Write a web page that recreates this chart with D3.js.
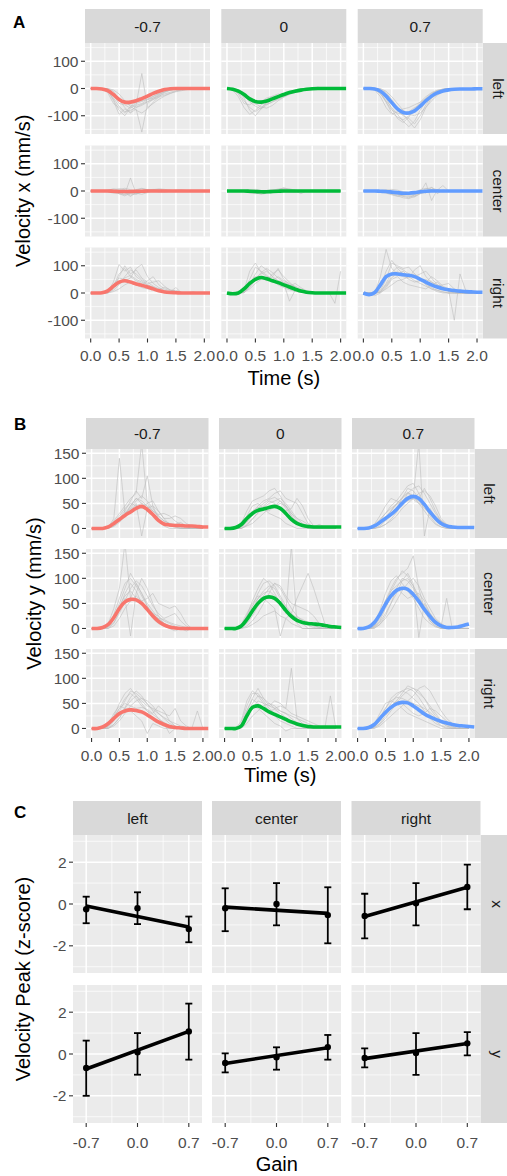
<!DOCTYPE html>
<html>
<head>
<meta charset="utf-8">
<script src="https://cdn.jsdelivr.net/npm/d3@7"></script>
<style>
  body { margin: 0; background: #fff; }
  svg { display: block; font-family: "Liberation Sans", Arial, Helvetica, sans-serif; }
</style>
</head>
<body>
<script>
const gains = ["-0.7", "0", "0.7"];
const sides = ["left", "center", "right"];
const axes = ["x", "y"];
const dt = 0.1; // samples every 0.1 s, starting at 0

// mean velocity traces, one per gain (-0.7, 0, 0.7)
const meanVxLeft = [
  [0,0,-2,-8,-22,-40,-50,-50,-45,-37,-28,-18,-10,-4,-1,0,0,0,0,0,0,0],
  [0,-3,-10,-22,-38,-48,-50,-46,-38,-30,-22,-15,-10,-6,-3,-1,0,0,0,0,0,0],
  [0,0,-2,-10,-28,-52,-75,-88,-90,-82,-65,-45,-28,-16,-9,-5,-3,-2,-2,-2,-1,-1]
];
const meanVxCenter = [
  [0,0,0,0,-1,-2,-2,-2,-1,-1,0,0,0,0,0,0,0,0,0,0,0,0],
  [0,0,0,0,-1,-2,-3,-3,-2,-1,0,0,0,0,0,0,0,0,0,0,0],
  [0,0,0,-1,-2,-4,-6,-8,-8,-6,-3,-1,0,0,0,0,0,0,0,0,0,0]
];
const meanVxRight = [
  [0,0,1,8,25,40,45,40,33,28,22,15,8,4,2,1,0,0,0,0,0,0],
  [0,-3,0,15,35,50,57,52,45,38,30,22,14,7,3,1,0,0,0,0,0,0],
  [0,-6,2,30,60,70,70,67,65,60,50,40,30,22,16,12,9,7,5,4,3,3]
];
const meanVyLeft = [
  [0,0,0,3,10,18,26,33,40,44,38,28,16,9,7,6,6,5,5,4,3,3],
  [0,0,2,8,20,30,36,39,42,44,40,30,18,10,6,4,3,3,3,3,3,3],
  [0,0,1,5,12,20,28,38,50,60,64,60,48,33,20,10,5,3,2,2,2,2]
];
const meanVyCenter = [
  [0,0,2,8,22,40,53,58,57,50,38,25,14,7,3,1,0,0,0,0,0,0],
  [0,0,0,5,18,35,50,60,63,60,50,36,24,16,12,10,9,8,6,4,3,2],
  [0,0,3,12,28,48,65,76,80,78,68,54,38,24,12,5,2,2,3,6,9]
];
const meanVyRight = [
  [0,0,3,10,20,30,35,37,36,33,27,20,13,8,4,2,1,0,0,0,0,0],
  [0,0,0,5,25,42,45,40,33,28,23,18,13,9,6,4,3,3,3,3,3,3],
  [0,0,2,8,20,32,42,49,52,51,45,37,29,23,18,14,11,8,6,5,4,3]
];

// individual trials (grey), per gain
const grayVxLeft = [
  [
    [0,0,0,-3,-45,-95,-75,-88,-62,-55,-42,-30,-18,-8,-3,0,0,0,0,0,0],
    [0,0,-2,-15,-55,-70,-90,-65,-50,-45,-38,-28,-20,-12,-6,-2,0,0,0,0,0],
    [0,0,0,0,-10,-40,-70,-90,-75,-160,-55,-40,-25,-12,-5,-2,0,0,0,0,0],
    [0,0,0,-5,-25,-55,-60,-72,-60,55,-70,-55,-40,-28,-18,-12,-8,-4,-1,0,0],
    [0,0,0,-2,-18,-40,-55,-60,-68,-58,-48,-40,-32,-25,-18,-10,-5,-2,0,0,0],
    [0,0,0,-8,-35,-65,-85,-80,-70,-62,-50,-35,-22,-12,-5,-2,0,0,0,0,0],
    [0,0,0,0,-5,-20,-45,-65,-80,-90,-75,-50,-30,-15,-6,-2,0,0,0,0,0],
    [0,0,-1,-10,-40,-80,-100,-70,-55,-48,-40,-35,-28,-20,-14,-8,-4,-2,0,0,0]
  ],
  [
    [0,-5,-30,-70,-95,-80,-60,-45,-35,-28,-20,-12,-6,-2,0,0,0,0,0,0,0],
    [0,-2,-15,-45,-70,-85,-70,-55,-40,-30,-22,-15,-8,-3,-1,0,0,0,0,0,0],
    [0,0,-8,-25,-50,-65,-75,-60,-50,-40,-30,-20,-12,-5,-2,0,0,0,0,0,0],
    [0,-3,-20,-55,-60,-45,-50,-40,-30,-35,-25,-10,-5,-2,0,0,0,0,0,0,0],
    [0,0,-5,-15,-35,-50,-55,-58,-48,-38,-28,-18,-10,-4,-1,0,5,0,0,0,0],
    [0,-1,-10,-35,-80,-100,-75,-50,-38,-30,-22,-14,-7,-2,0,0,0,0,0,0,0],
    [0,0,-4,-20,-40,-55,-68,-72,-62,-45,-32,-22,-14,-8,-3,0,0,0,0,0,0],
    [0,-2,-12,-30,-45,-58,-48,-35,-28,-20,-25,-18,-12,-6,-2,0,0,0,0,0,0]
  ],
  [
    [0,0,0,-10,-50,-90,-105,-115,-100,-80,-55,-35,-18,-8,-3,0,0,0,0,0,0],
    [0,0,-2,-20,-45,-70,-95,-120,-140,-120,-80,-45,-20,-8,-2,0,0,0,0,0,0],
    [0,0,0,-5,-20,-50,-80,-100,-110,-130,-100,-60,-30,-12,-4,0,0,0,0,0,0],
    [0,0,-5,-30,-70,-95,-85,-75,-70,-60,-50,-38,-25,-15,-8,-4,-2,0,0,0,0],
    [0,0,0,0,-10,-30,-55,-80,-95,-100,-90,-70,-45,-25,-12,-5,-2,-1,0,0,0],
    [0,0,-1,-8,-35,-75,-110,-125,-105,-75,-50,-30,-15,-6,-2,0,0,0,0,0,0],
    [0,0,0,-2,-15,-40,-70,-95,-120,-145,-115,-70,-35,-15,-5,-1,0,0,0,0,0],
    [0,0,-3,-18,-50,-80,-90,-95,-85,-70,-62,-50,-35,-22,-12,-6,-3,-1,0,0,0]
  ]
];
const grayVxCenter = [
  [
    [0,0,0,-3,-8,-5,-12,48,-10,-5,-3,2,5,3,0,0,2,0,0,0,0],
    [0,0,0,2,5,-10,-18,-8,5,10,4,0,-3,-2,0,3,4,2,0,0,0],
    [0,0,0,0,-5,-8,-5,-15,-10,-2,3,6,4,2,0,0,0,0,0,0,0],
    [0,0,0,3,8,6,10,5,-2,-5,0,5,8,6,3,0,-2,0,0,0,0],
    [0,0,0,-2,-4,3,-6,-20,-5,0,2,0,-3,0,2,0,0,0,0,0,0],
    [0,0,0,1,-3,-10,-14,-6,3,8,5,2,-2,-4,-1,2,3,1,0,0,0],
    [0,0,0,-1,3,8,4,-8,-12,-4,2,4,1,-1,0,0,0,0,0,0,0],
    [0,0,0,0,-6,-2,5,-4,-8,-12,-6,0,3,2,0,-2,0,0,0,0,0]
  ],
  [
    [0,0,0,2,-5,-8,-6,-3,2,5,12,6,2,-10,0,0,0,0,0,0,0],
    [0,0,0,-2,-8,-4,-10,-6,-2,3,8,5,3,0,0,0,0,0,0,0,0],
    [0,0,0,0,3,6,2,-4,-6,0,4,2,0,-2,0,0,0,0,0,0,0],
    [0,0,0,-3,-6,-10,-5,0,4,6,3,0,-3,-1,0,0,0,0,0,0,0],
    [0,0,0,1,4,2,-2,-5,-3,2,6,8,3,0,0,0,0,0,0,0,0],
    [0,0,0,1,-3,-6,-12,-8,0,4,2,-2,-5,-3,0,0,0,0,0,0,0],
    [0,0,0,-1,2,-3,-6,-2,3,7,10,4,1,0,0,0,0,0,0,0,0],
    [0,0,0,0,-2,-5,-3,2,5,2,-3,-5,-2,0,0,0,0,0,0,0,0]
  ],
  [
    [0,0,0,-2,-5,-10,-15,-20,-25,-15,-5,30,-35,5,0,0,0,0,0,0,0],
    [0,0,0,0,-4,-8,-12,-18,-20,-22,-10,0,5,3,20,0,0,0,0,0,0],
    [0,0,0,2,5,0,-5,-10,-8,-5,5,10,5,0,-3,0,0,0,0,0,0],
    [0,0,0,-3,-8,-14,-20,-15,-12,-18,-10,-5,0,3,0,0,0,0,0,0,0],
    [0,0,0,0,2,6,3,-2,-6,-10,-4,8,12,4,0,0,0,0,0,0,0],
    [0,0,0,-1,-6,-12,-18,-25,-28,-20,-8,2,5,2,0,0,0,0,0,0,0],
    [0,0,0,1,-2,-5,-10,-15,-12,-6,2,-8,15,-10,4,0,0,0,0,0,0],
    [0,0,0,-2,-4,-3,-8,-12,-16,-12,-6,-2,2,0,0,0,0,0,0,0,0]
  ]
];
const grayVxRight = [
  [
    [0,0,0,5,40,105,80,95,60,45,30,20,10,5,2,0,0,0,0,0,0],
    [0,0,0,0,15,60,100,70,85,55,40,25,15,8,3,0,0,0,0,0,0],
    [0,0,0,3,20,35,45,55,90,105,60,35,20,10,5,20,0,0,0,0,0],
    [0,0,0,0,5,15,30,40,35,30,45,60,30,15,8,10,3,0,5,0,0],
    [0,0,0,8,30,55,50,40,30,20,15,12,8,5,3,2,0,0,0,0,0],
    [0,0,0,2,25,70,90,60,45,35,25,15,8,4,2,0,0,0,0,0,0],
    [0,0,0,0,10,30,60,85,70,50,35,40,45,25,10,5,0,0,0,0,0],
    [0,0,0,4,18,40,55,65,50,40,30,22,15,20,12,6,2,0,0,0,0]
  ],
  [
    [0,0,0,10,80,110,75,60,50,35,25,15,8,3,0,0,0,0,0,0,0],
    [0,0,0,0,30,70,100,85,60,90,50,30,15,5,0,0,0,0,0,0,0],
    [0,0,0,5,35,55,70,80,60,45,35,-30,10,5,0,0,0,0,0,-38,80],
    [0,0,2,12,40,60,55,45,70,85,60,40,20,8,2,0,0,0,0,0,0],
    [0,0,0,3,15,35,50,60,55,45,38,30,25,15,6,2,0,0,0,0,0],
    [0,0,1,8,50,95,80,65,45,30,20,12,6,2,0,0,0,0,0,0,0],
    [0,0,0,2,20,50,75,90,75,55,40,25,35,20,8,2,0,0,0,0,0],
    [0,0,0,6,25,45,60,50,45,60,45,35,22,10,3,0,0,0,0,0,0]
  ],
  [
    [0,0,0,60,160,90,70,80,60,45,35,25,15,10,5,0,0,0,0,0,0],
    [0,0,0,10,50,110,100,90,95,70,50,30,15,5,0,0,0,0,0,0,0],
    [0,0,0,5,30,60,80,60,55,85,100,60,40,30,20,10,-100,70,10,0,0],
    [0,0,0,2,15,30,45,50,60,70,55,40,60,45,25,15,10,5,0,0,0],
    [0,0,-10,0,20,50,60,40,30,25,20,15,30,40,20,5,0,0,0,0,0],
    [0,0,-5,20,80,120,90,70,65,60,50,35,20,10,3,0,0,0,0,0,0],
    [0,0,0,5,35,75,95,85,70,60,70,80,55,30,15,8,3,0,0,0,0],
    [0,0,-3,3,25,55,75,65,50,40,45,50,40,25,30,35,15,5,0,0,0]
  ]
];
const grayVyLeft = [
  [
    [0,0,0,2,20,140,30,45,60,55,45,30,20,10,5,3,0,0,0,0,0],
    [0,0,0,5,15,30,45,60,70,170,50,35,25,15,10,5,2,0,0,0,0],
    [0,0,0,0,8,20,35,55,75,60,105,45,20,10,5,8,12,5,0,0,0],
    [0,0,0,3,12,25,40,50,45,40,50,55,35,20,20,25,20,10,5,0,0],
    [0,0,0,0,5,15,25,35,50,-15,40,30,15,5,0,0,0,0,0,0,0],
    [0,0,0,3,10,20,30,40,55,65,55,40,25,15,10,8,6,4,2,0,0],
    [0,0,0,0,4,12,25,45,60,50,40,45,35,20,8,3,0,0,0,0,0],
    [0,0,0,2,8,18,28,38,45,50,45,35,28,30,25,15,8,3,0,0,0]
  ],
  [
    [0,0,0,10,35,55,60,65,75,80,65,45,25,10,5,0,0,0,0,0,0],
    [0,0,0,3,15,30,45,55,60,70,75,60,55,50,30,10,3,0,0,0,0],
    [0,0,0,0,8,20,30,45,55,50,40,35,40,60,45,20,5,0,0,0,0],
    [0,0,0,5,25,45,50,40,30,25,20,10,5,0,0,0,0,0,0,0,0],
    [0,0,0,0,5,10,20,30,40,45,50,45,30,15,8,5,3,8,3,0,0],
    [0,0,0,2,12,28,40,50,58,62,55,40,25,12,5,2,0,0,0,0,0],
    [0,0,0,0,6,18,32,42,50,55,60,50,35,20,10,5,2,0,0,0,0],
    [0,0,0,4,18,35,42,38,35,45,55,45,30,20,15,8,3,0,0,0,0]
  ],
  [
    [0,0,0,5,15,30,45,55,70,85,90,70,45,25,10,3,0,0,0,0,0],
    [0,0,0,2,10,20,35,50,60,70,65,170,-15,40,20,8,3,0,0,0,0],
    [0,0,0,0,5,15,25,40,60,80,75,60,80,60,35,15,5,0,0,0,0],
    [0,0,0,8,25,45,60,55,50,55,60,55,40,30,20,10,5,2,0,0,0],
    [0,0,0,0,3,8,15,25,40,50,60,70,75,65,45,20,8,3,0,0,0],
    [0,0,0,3,10,22,35,48,62,72,65,50,35,20,8,3,0,0,0,0,0],
    [0,0,0,0,2,8,18,32,50,70,80,85,70,50,30,15,6,2,0,0,0],
    [0,0,0,5,18,30,40,48,55,62,58,50,45,35,25,15,8,3,0,0,0]
  ]
];
const grayVyCenter = [
  [
    [0,0,0,10,40,80,170,60,90,70,45,20,10,5,0,0,0,0,0,0,0],
    [0,0,0,3,20,50,80,110,90,70,50,35,20,10,5,3,0,0,0,0,0],
    [0,0,0,0,10,35,60,-15,70,100,80,50,25,10,0,-5,0,0,0,0,0],
    [0,0,0,5,25,45,65,75,60,55,60,70,50,45,40,45,30,10,0,0,0],
    [0,0,0,0,5,20,40,55,65,55,40,30,25,15,10,5,0,-5,0,0,0],
    [0,0,0,6,28,60,90,100,85,65,45,30,18,10,5,2,0,0,0,0,0],
    [0,0,0,2,12,30,55,80,95,85,65,45,30,20,25,30,15,5,0,0,0],
    [0,0,0,4,18,40,70,90,75,50,35,25,20,18,12,8,5,2,0,0,0]
  ],
  [
    [0,0,0,5,25,55,80,100,90,70,50,30,165,10,0,0,0,0,0,0,0],
    [0,0,0,3,15,35,60,75,85,80,60,40,20,15,10,0,0,0,0,0,0],
    [0,0,0,0,5,15,30,50,70,90,85,65,50,45,40,35,25,10,5,0,0],
    [0,0,0,0,2,8,15,25,30,35,25,20,30,60,85,110,80,45,10,3,0],
    [0,0,0,8,30,50,65,60,50,40,-15,20,10,5,0,0,0,0,0,0,0],
    [0,0,0,4,20,45,70,90,95,85,65,45,30,20,12,6,2,0,0,0,0],
    [0,0,0,2,10,25,45,65,80,90,80,60,40,25,15,10,5,2,0,0,0],
    [0,0,0,6,25,45,60,70,75,65,50,38,28,22,18,12,6,2,0,0,0]
  ],
  [
    [0,0,0,5,25,55,80,100,110,120,145,80,40,15,5,0,0,0,0,0,0],
    [0,0,0,10,35,70,95,105,90,75,60,40,20,10,3,0,0,0,0,0,0],
    [0,0,0,2,12,30,50,70,95,110,90,-18,50,30,15,5,60,0,0,0,0],
    [0,0,0,0,8,20,35,55,75,90,100,85,60,40,20,10,3,0,0,0,0],
    [0,0,0,3,15,40,65,80,70,60,65,70,55,30,12,5,0,0,0,0,0],
    [0,0,0,4,20,45,75,95,115,105,85,60,35,15,5,0,0,0,0,0,0],
    [0,0,0,1,8,25,50,80,100,95,80,60,45,30,18,8,3,0,0,0,0],
    [0,0,0,6,28,55,75,85,95,100,85,65,40,20,8,3,0,0,0,0,0]
  ]
];
const grayVyRight = [
  [
    [0,0,0,5,25,50,70,80,65,50,35,20,10,5,0,0,0,0,0,0,0],
    [0,0,0,2,15,35,55,75,70,60,55,45,30,20,10,5,0,0,0,0,0],
    [0,0,0,0,8,20,40,55,65,55,45,40,35,30,25,40,15,5,0,35,0],
    [0,0,0,8,30,45,40,35,25,15,-10,10,5,0,0,0,0,0,0,0,0],
    [0,0,0,0,5,15,30,45,55,60,50,35,20,10,-10,0,0,0,0,0,0],
    [0,0,0,4,20,40,60,70,60,45,35,28,20,12,6,2,0,0,0,0,0],
    [0,0,0,1,8,22,42,62,75,65,48,38,30,22,15,10,5,2,0,0,0],
    [0,0,0,6,24,40,50,45,40,42,38,30,45,35,15,5,0,0,0,0,0]
  ],
  [
    [0,0,0,15,55,75,65,50,35,25,15,10,5,0,0,0,0,0,0,0,0],
    [0,0,0,5,35,60,80,60,45,40,45,40,120,20,10,5,0,0,0,0,0],
    [0,0,0,2,20,40,55,50,45,55,50,40,30,25,20,15,10,5,0,65,0],
    [0,0,0,8,30,45,40,30,20,10,5,-5,0,0,0,0,0,0,0,0,0],
    [0,0,0,0,10,25,35,45,50,45,35,30,25,20,15,10,5,3,0,0,0],
    [0,0,0,10,45,70,70,55,40,30,22,15,10,6,3,0,0,0,0,0,0],
    [0,0,0,3,25,50,65,60,50,40,35,30,20,12,6,3,0,0,0,0,0],
    [0,0,0,6,35,58,50,40,35,38,30,22,15,10,8,5,3,0,0,0,0]
  ],
  [
    [0,0,0,5,20,40,60,70,75,70,60,50,35,20,10,5,0,0,0,0,0],
    [0,0,0,2,10,25,40,55,70,85,80,70,60,45,30,15,5,0,0,0,0],
    [0,0,0,0,5,15,25,35,45,55,65,80,85,75,55,35,20,10,3,0,0],
    [0,0,0,8,30,50,55,50,40,30,25,20,15,10,5,0,0,0,0,0,0],
    [0,0,0,3,15,30,45,55,50,40,30,25,30,40,35,25,15,5,0,0,0],
    [0,0,0,3,15,30,50,65,75,80,75,62,45,28,15,6,2,0,0,0,0],
    [0,0,0,6,22,40,55,62,60,55,50,45,40,32,22,12,5,2,0,0,0],
    [0,0,0,1,8,20,35,50,65,75,80,75,60,40,25,15,8,3,0,0,0]
  ]
];

// panel C: velocity peak (z-score) per gain, rows x / y, columns left / center / right
const gainValues = [-0.7, 0, 0.7];
const peakXMean = [[-0.25, -0.2, -1.2], [-0.2, 0.0, -0.53], [-0.57, 0.03, 0.81]];
const peakXLow  = [[-0.92, -0.96, -1.83], [-1.3, -1.02, -1.88], [-1.64, -1.02, -0.25]];
const peakXHigh = [[0.35, 0.56, -0.6], [0.75, 1.0, 0.8], [0.49, 1.0, 1.88]];
const peakXFit  = [[-0.1, -1.1], [-0.15, -0.45], [-0.6, 0.8]];
const peakYMean = [[-0.67, 0.08, 1.08], [-0.43, -0.16, 0.33], [-0.19, 0.05, 0.51]];
const peakYLow  = [[-2.0, -0.99, -0.27], [-0.88, -0.75, -0.27], [-0.64, -1.0, -0.07]];
const peakYHigh = [[0.64, 1.0, 2.41], [0.03, 0.32, 0.91], [0.27, 1.0, 1.05]];
const peakYFit  = [[-0.72, 1.08], [-0.45, 0.3], [-0.22, 0.5]];

const hue = ["#F8766D", "#00BA38", "#619CFF"];

const W = 507, H = 1176;
const svg = d3.select("body").append("svg").attr("width", W).attr("height", H);
svg.append("rect").attr("width", W).attr("height", H).attr("fill", "#fff");

let clipCount = 0;

function facetGrid(cfg) {
  const root = svg.append("g");
  const xs = d3.scaleLinear().domain(cfg.xDomain).range([0, cfg.colW]);
  const ys = d3.scaleLinear().domain(cfg.yDomain).range([cfg.rowH, 0]);
  const lastRow = cfg.rowY.length - 1;
  const bottom = cfg.rowY[lastRow] + cfg.rowH;

  // column strips
  cfg.colX.forEach((cx, ci) => {
    root.append("rect").attr("x", cx).attr("y", cfg.stripTop)
      .attr("width", cfg.colW).attr("height", cfg.stripH).attr("fill", "#D9D9D9");
    root.append("text").attr("x", cx + cfg.colW / 2).attr("y", cfg.stripTop + cfg.stripH / 2)
      .attr("text-anchor", "middle").attr("dominant-baseline", "central")
      .attr("font-size", 15.5).attr("fill", "#1A1A1A").text(cfg.colLabels[ci]);
  });

  // row strips
  cfg.rowY.forEach((ry, ri) => {
    root.append("rect").attr("x", cfg.rightX).attr("y", ry)
      .attr("width", 40).attr("height", cfg.rowH).attr("fill", "#D9D9D9");
    root.append("text")
      .attr("transform", `translate(${cfg.rightTextX},${ry + cfg.rowH / 2}) rotate(90)`)
      .attr("text-anchor", "middle").attr("dominant-baseline", "central")
      .attr("font-size", 15.5).attr("fill", "#1A1A1A").text(cfg.rowLabels[ri]);
  });

  cfg.rowY.forEach((ry, ri) => cfg.colX.forEach((cx, ci) => {
    const g = root.append("g").attr("transform", `translate(${cx},${ry})`);
    g.append("rect").attr("width", cfg.colW).attr("height", cfg.rowH).attr("fill", "#EBEBEB");

    g.selectAll(".vminor").data(cfg.xMinor).enter().append("line")
      .attr("x1", d => xs(d)).attr("x2", d => xs(d)).attr("y1", 0).attr("y2", cfg.rowH)
      .attr("stroke", "#fff").attr("stroke-width", 0.7);
    g.selectAll(".hminor").data(cfg.yMinor).enter().append("line")
      .attr("y1", d => ys(d)).attr("y2", d => ys(d)).attr("x1", 0).attr("x2", cfg.colW)
      .attr("stroke", "#fff").attr("stroke-width", 0.7);
    g.selectAll(".vmajor").data(cfg.xMajor).enter().append("line")
      .attr("x1", d => xs(d)).attr("x2", d => xs(d)).attr("y1", 0).attr("y2", cfg.rowH)
      .attr("stroke", "#fff").attr("stroke-width", 1.5);
    g.selectAll(".hmajor").data(cfg.yMajor).enter().append("line")
      .attr("y1", d => ys(d)).attr("y2", d => ys(d)).attr("x1", 0).attr("x2", cfg.colW)
      .attr("stroke", "#fff").attr("stroke-width", 1.5);

    const id = "clip" + (clipCount++);
    g.append("clipPath").attr("id", id).append("rect")
      .attr("width", cfg.colW).attr("height", cfg.rowH);
    const body = g.append("g").attr("clip-path", `url(#${id})`);
    cfg.drawPanel(body, ri, ci, xs, ys);

    // y axis on first column
    if (ci === 0) {
      cfg.yMajor.forEach(v => {
        g.append("line").attr("x1", -4).attr("x2", 0).attr("y1", ys(v)).attr("y2", ys(v))
          .attr("stroke", "#333").attr("stroke-width", 1.1);
        g.append("text").attr("x", -6.5).attr("y", ys(v))
          .attr("text-anchor", "end").attr("dominant-baseline", "central")
          .attr("font-size", 15.5).attr("fill", "#4D4D4D").text(String(v));
      });
    }
    // x axis on last row
    if (ri === lastRow) {
      cfg.xMajor.forEach(v => {
        g.append("line").attr("x1", xs(v)).attr("x2", xs(v)).attr("y1", cfg.rowH).attr("y2", cfg.rowH + 4)
          .attr("stroke", "#333").attr("stroke-width", 1.1);
        g.append("text").attr("x", xs(v)).attr("y", cfg.rowH + cfg.xLabelDy)
          .attr("text-anchor", "middle").attr("font-size", 15.5).attr("fill", "#4D4D4D")
          .text(v.toFixed(1));
      });
    }
  }));

  const left = cfg.colX[0];
  root.append("text").attr("x", (left + cfg.rightX) / 2).attr("y", bottom + cfg.xTitleDy)
    .attr("text-anchor", "middle").attr("font-size", 20).attr("fill", "#000").text(cfg.xTitle);
  root.append("text")
    .attr("transform", `translate(${cfg.yTitleX},${(cfg.rowY[0] + bottom) / 2}) rotate(-90)`)
    .attr("text-anchor", "middle").attr("font-size", 20).attr("fill", "#000").text(cfg.yTitle);
  root.append("text").attr("x", cfg.tagX).attr("y", cfg.tagY)
    .attr("font-size", 17).attr("font-weight", "bold").attr("fill", "#000").text(cfg.tag);
}

function timePanel(meanRows, grayRows) {
  return (body, ri, ci, xs, ys) => {
    const grayLine = d3.line().x((v, i) => xs(i * dt)).y(v => ys(v));
    grayRows[ri][ci].forEach(tr => {
      body.append("path").datum(tr).attr("d", grayLine)
        .attr("fill", "none").attr("stroke", "#BDBDBD").attr("stroke-width", 0.6);
    });
    const meanLine = d3.line().curve(d3.curveCatmullRom)
      .x((v, i) => xs(i * dt)).y(v => ys(v));
    body.append("path").datum(meanRows[ri][ci]).attr("d", meanLine)
      .attr("fill", "none").attr("stroke", hue[ci]).attr("stroke-width", 3.6)
      .attr("stroke-linecap", "butt");
  };
}

// Panel A
facetGrid({
  tag: "A", tagX: 13, tagY: 28,
  colX: [85, 221.3, 357.7], colW: 125,
  rowY: [43, 145.5, 247.5], rowH: 91,
  stripTop: 9, stripH: 34,
  rightX: 482.7, rightTextX: 498,
  colLabels: gains, rowLabels: sides,
  xDomain: [-0.1, 2.1], yDomain: [-167, 167],
  xMajor: [0, 0.5, 1, 1.5, 2], xMinor: [0.25, 0.75, 1.25, 1.75],
  yMajor: [-100, 0, 100], yMinor: [-150, -50, 50, 150],
  xLabelDy: 22, xTitleDy: 46, xTitle: "Time (s)",
  yTitle: "Velocity x (mm/s)", yTitleX: 30,
  drawPanel: timePanel([meanVxLeft, meanVxCenter, meanVxRight],
                       [grayVxLeft, grayVxCenter, grayVxRight])
});

// Panel B
facetGrid({
  tag: "B", tagX: 14, tagY: 430,
  colX: [86, 219, 352], colW: 122.5,
  rowY: [449, 549, 649], rowH: 89,
  stripTop: 418, stripH: 31,
  rightX: 474.5, rightTextX: 489,
  colLabels: gains, rowLabels: sides,
  xDomain: [-0.1, 2.1], yDomain: [-19, 158.5],
  xMajor: [0, 0.5, 1, 1.5, 2], xMinor: [0.25, 0.75, 1.25, 1.75],
  yMajor: [0, 50, 100, 150], yMinor: [25, 75, 125],
  xLabelDy: 23, xTitleDy: 44, xTitle: "Time (s)",
  yTitle: "Velocity y (mm/s)", yTitleX: 41,
  drawPanel: timePanel([meanVyLeft, meanVyCenter, meanVyRight],
                       [grayVyLeft, grayVyCenter, grayVyRight])
});

// Panel C
const peakMean = [peakXMean, peakYMean];
const peakLow = [peakXLow, peakYLow];
const peakHigh = [peakXHigh, peakYHigh];
const peakFit = [peakXFit, peakYFit];
const capHalf = 0.048;

facetGrid({
  tag: "C", tagX: 14, tagY: 818,
  colX: [73, 212, 351.5], colW: 129,
  rowY: [835, 985], rowH: 138,
  stripTop: 801, stripH: 34,
  rightX: 480.5, rightTextX: 497,
  colLabels: sides, rowLabels: axes,
  xDomain: [-0.88, 0.88], yDomain: [-3.3, 3.3],
  xMajor: gainValues, xMinor: [-0.35, 0.35],
  yMajor: [-2, 0, 2], yMinor: [-3, -1, 1, 3],
  xLabelDy: 24.5, xTitleDy: 48, xTitle: "Gain",
  yTitle: "Velocity Peak (z-score)", yTitleX: 30,
  drawPanel: (body, ri, ci, xs, ys) => {
    const mean = peakMean[ri][ci], lo = peakLow[ri][ci], hi = peakHigh[ri][ci];
    gainValues.forEach((gv, k) => {
      body.append("line").attr("x1", xs(gv)).attr("x2", xs(gv))
        .attr("y1", ys(lo[k])).attr("y2", ys(hi[k]))
        .attr("stroke", "#000").attr("stroke-width", 1.8);
      [lo[k], hi[k]].forEach(v => {
        body.append("line").attr("x1", xs(gv - capHalf)).attr("x2", xs(gv + capHalf))
          .attr("y1", ys(v)).attr("y2", ys(v))
          .attr("stroke", "#000").attr("stroke-width", 1.8);
      });
    });
    const fit = peakFit[ri][ci];
    body.append("line")
      .attr("x1", xs(gainValues[0])).attr("y1", ys(fit[0]))
      .attr("x2", xs(gainValues[2])).attr("y2", ys(fit[1]))
      .attr("stroke", "#000").attr("stroke-width", 3.6);
    body.selectAll(".pt").data(mean).enter().append("circle")
      .attr("cx", (d, k) => xs(gainValues[k])).attr("cy", d => ys(d))
      .attr("r", 3.2).attr("fill", "#000");
  }
});
</script>
</body>
</html>
